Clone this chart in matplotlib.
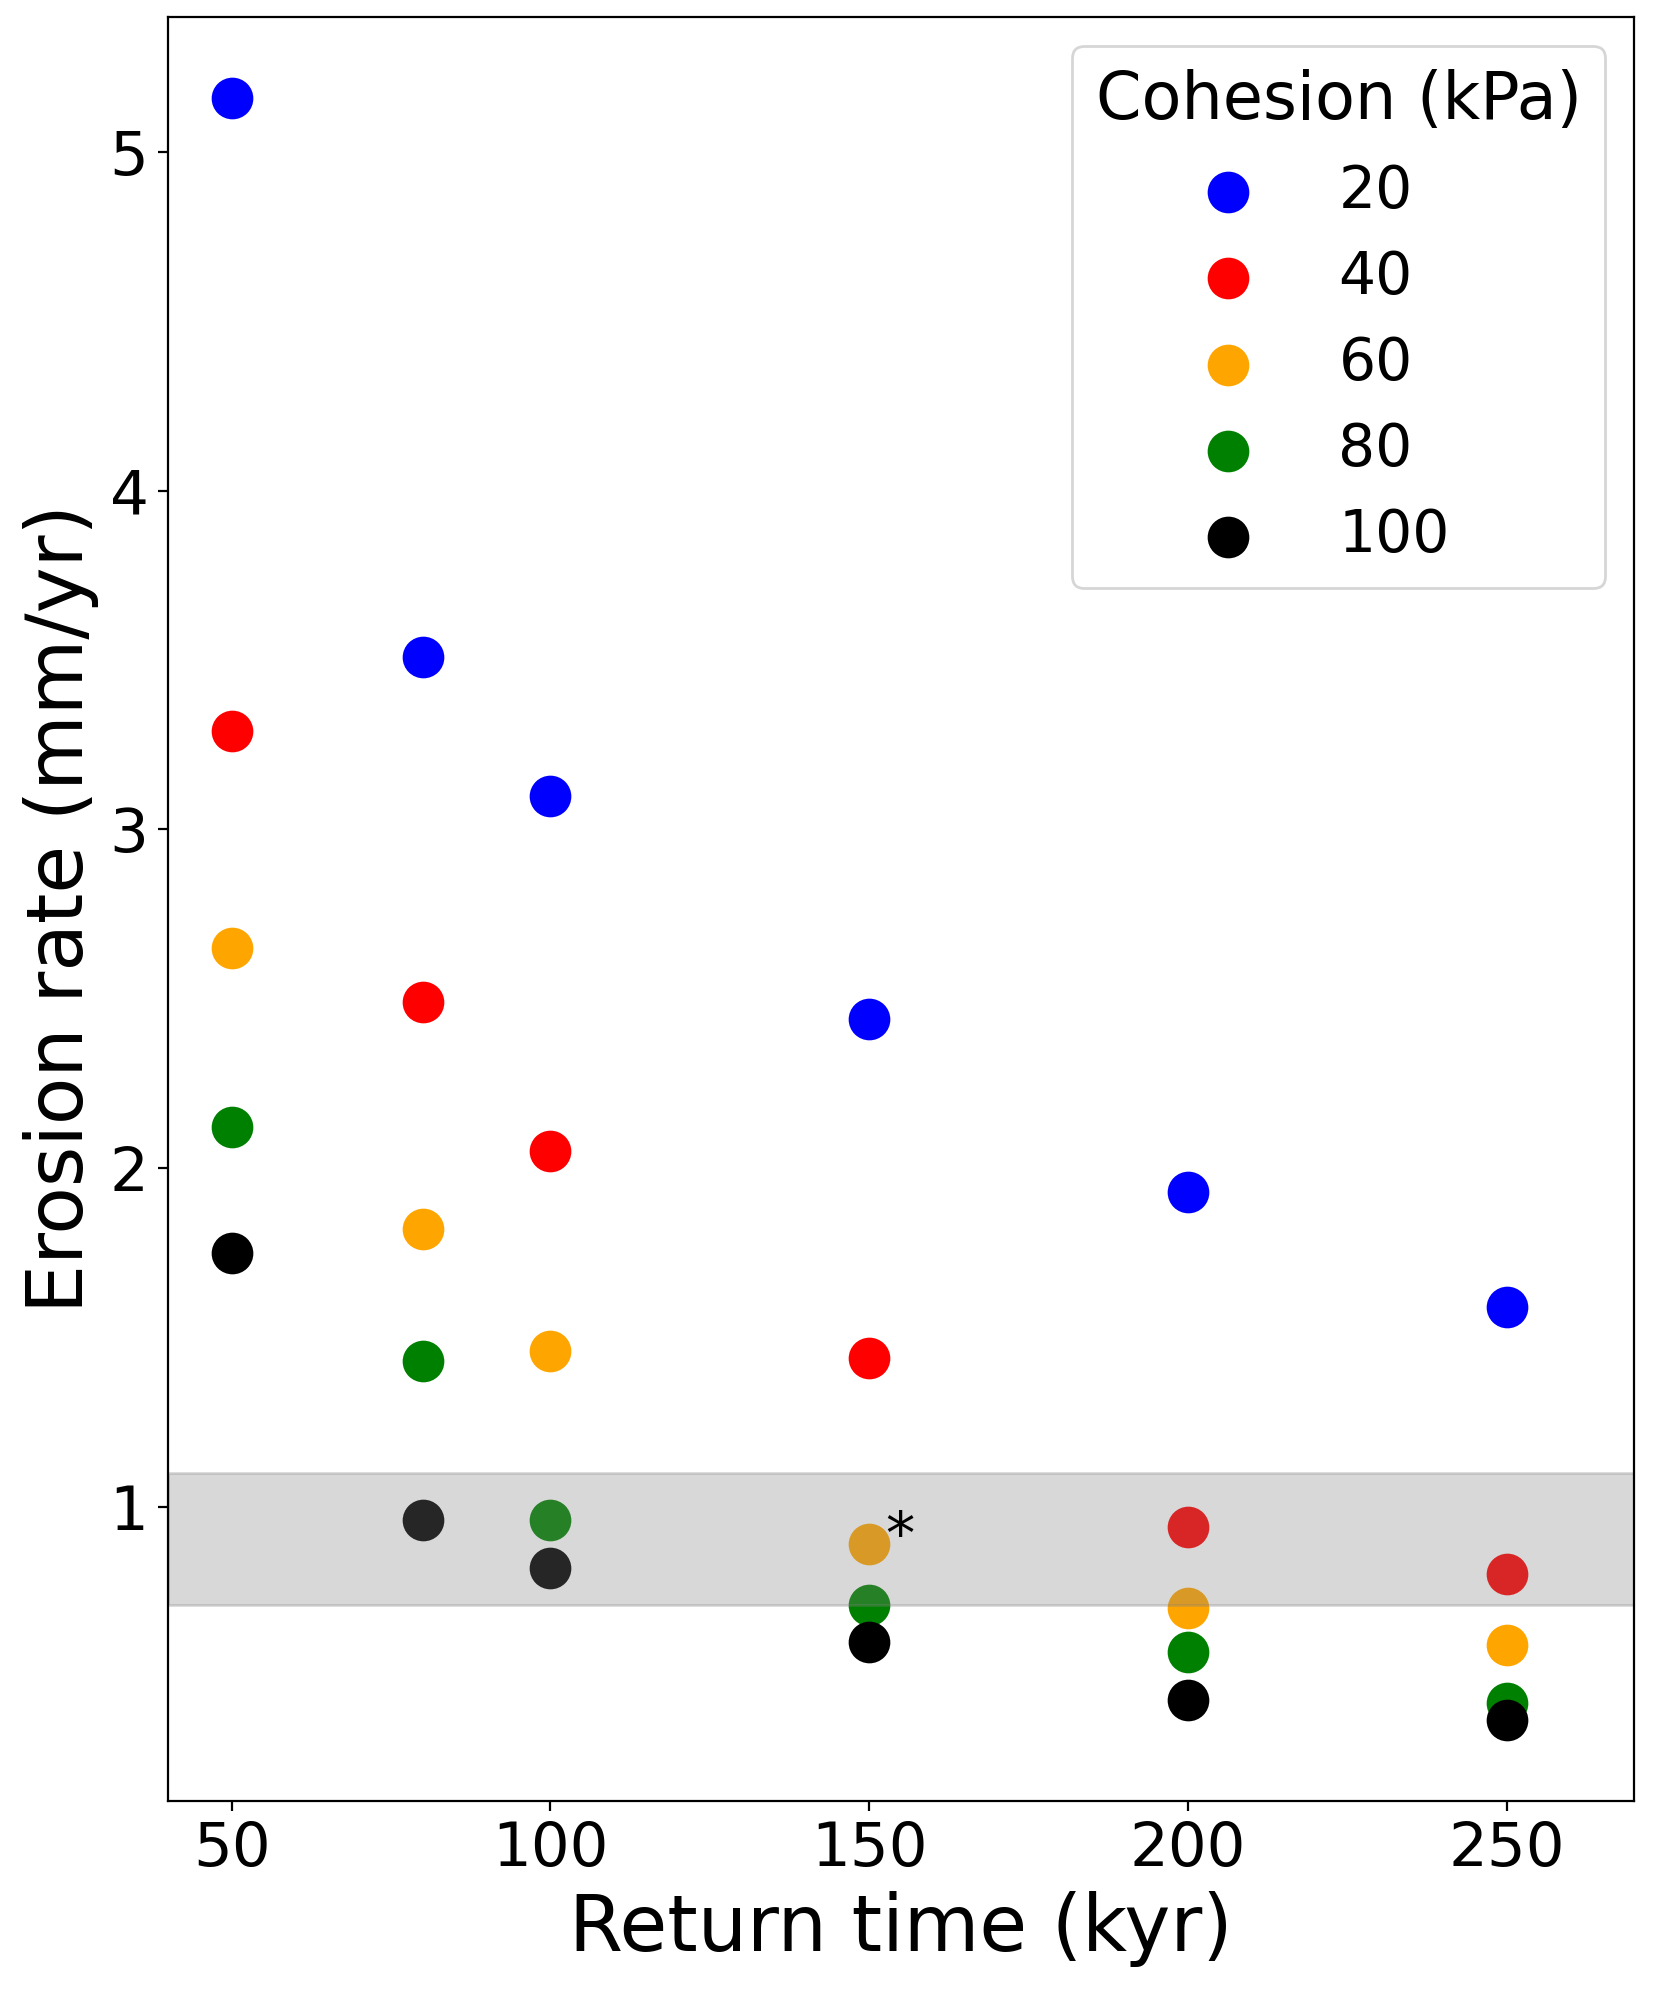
import matplotlib
matplotlib.use("Agg")
import matplotlib.pyplot as plt

# return times (kyr) and erosion rates (mm/yr) per cohesion value
return_time = [50, 80, 100, 150, 200, 250]
cohesion = [20, 40, 60, 80, 100]
rate_20 = [5.16, 3.51, 3.10, 2.44, 1.93, 1.59]
rate_40 = [3.29, 2.49, 2.05, 1.44, 0.94, 0.80]
rate_60 = [2.65, 1.82, 1.46, 0.89, 0.70, 0.59]
rate_80 = [2.12, 1.43, 0.96, 0.71, 0.57, 0.42]
rate_100 = [1.75, 0.96, 0.82, 0.60, 0.43, 0.37]
colors = ["blue", "red", "orange", "green", "black"]

# observed range (grey band)
band_low, band_high = 0.71, 1.1

fig = plt.figure(figsize=(8.265, 9.945), dpi=200)
ax = fig.add_axes([0.1016, 0.0945, 0.887, 0.897])

for c, rates, col in zip(cohesion, [rate_20, rate_40, rate_60, rate_80, rate_100], colors):
    ax.scatter(return_time, rates, s=196, color=col, label=str(c))

ax.axhspan(band_low, band_high, color="gray", alpha=0.3)
ax.text(152.5, 0.825, "*", fontsize=21, ha="left", va="bottom")

ax.set_xlim(40, 270)
ax.set_xlabel("Return time (kyr)", fontsize=28)
ax.set_ylabel("Erosion rate (mm/yr)", fontsize=28)
ax.tick_params(labelsize=22)
ax.legend(title="Cohesion (kPa)", fontsize=21, title_fontsize=23.5,
          handlelength=0, handletextpad=1.9)

fig.savefig("out.png", dpi=200)
